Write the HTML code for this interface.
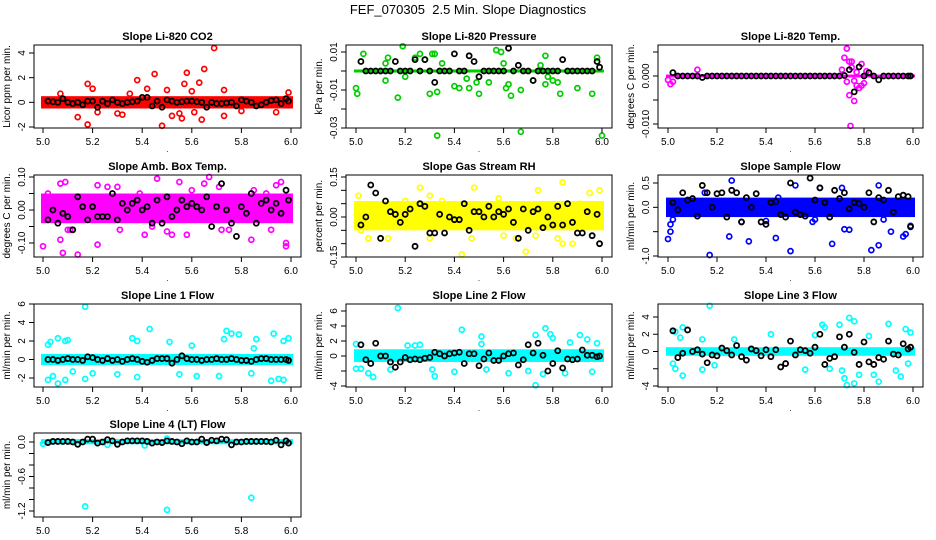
<!DOCTYPE html>
<html><head><meta charset="utf-8">
<style>
html,body{margin:0;padding:0;background:#fff;}
svg{display:block;font-family:"Liberation Sans",Arial,sans-serif;}
</style></head>
<body>
<svg id="chart" width="936" height="540" viewBox="0 0 936 540" xmlns="http://www.w3.org/2000/svg">
<rect width="936" height="540" fill="#fff"/>
<text x="468" y="14" font-size="13" text-anchor="middle" xml:space="preserve">FEF_070305  2.5 Min. Slope Diagnostics</text>
</svg>
<script>
// ---- data ----
const blackX = [5.02,5.04,5.06,5.08,5.10,5.12,5.14,5.16,5.18,5.20,5.22,5.24,5.26,5.28,5.30,5.32,5.34,5.36,5.38,5.40,5.42,5.44,5.46,5.48,5.50,5.52,5.54,5.56,5.58,5.60,5.62,5.64,5.66,5.68,5.70,5.72,5.74,5.76,5.78,5.80,5.82,5.84,5.86,5.88,5.90,5.92,5.94,5.96,5.98,5.99];
const xTicks = [5.0,5.2,5.4,5.6,5.8,6.0];
const xTickLabels = ["5.0","5.2","5.4","5.6","5.8","6.0"];

const co2Black = [0.1,0.05,0,0.3,0,-0.1,0,-0.2,0.1,0.1,-0.4,0.1,-0.1,0.2,0,-0.1,0,0.05,0.1,0.4,0.4,-0.3,0.1,-0.4,0.2,0.1,0,0.05,0.1,0.1,0.05,0,-0.4,0,-0.1,-0.1,-0.05,0,-0.3,0.2,0.1,0,-0.3,-0.2,0,0.15,0.2,-0.1,0.3,0.1];
const co2Pts = [[5.18,1.5],[5.2,1.1],[5.38,1.8],[5.45,2.3],[5.58,2.4],[5.65,2.7],[5.69,4.4],[5.57,1.5],[5.63,1.6],[5.14,-1.2],[5.18,-1.8],[5.48,-1.9],[5.56,-1.3],[5.64,-1.4],[5.73,-1.1],[5.52,-1.1],[5.07,0.7],[5.42,1.1],[5.73,1.0],[5.99,0.8],[5.3,-0.9],[5.22,-0.8],[5.94,-0.8],[5.8,-0.7],[5.6,0.9],[5.5,1.0],[5.32,-1.0],[5.55,-0.9],[5.61,-0.8],[5.35,0.7]];
const co2Band = [-0.5,0.5];

const presBlack = [0.005,0,0,0,0,0,0,0.005,0,0,0,0.006,0,0.006,0,-0.006,0,0,0,0.009,0,0,0.008,0.005,-0.003,0,0,0,0,0,0.012,0,0.003,0,0,-0.005,0,0,0,0,0,0.006,0,0,0,0,0,0,0.005,0.002];
const presPts = [[5.0,-0.009],[5.005,-0.012],[5.03,0.009],[5.17,-0.014],[5.19,0.013],[5.24,0.007],[5.26,0.009],[5.3,-0.012],[5.33,-0.034],[5.33,-0.011],[5.35,0.004],[5.4,-0.008],[5.42,-0.009],[5.46,-0.009],[5.5,-0.012],[5.57,0.011],[5.59,0.01],[5.6,0.004],[5.63,-0.013],[5.67,-0.032],[5.67,-0.01],[5.75,0.003],[5.77,0.008],[5.77,-0.007],[5.83,-0.012],[5.9,-0.009],[5.96,-0.012],[5.98,0.007],[6.0,-0.034],[5.12,-0.005],[5.12,0.004],[5.13,0.007],[5.2,-0.003],[5.54,-0.006],[5.61,-0.009],[5.62,-0.007],[5.72,-0.005],[5.78,-0.003],[5.8,-0.005],[5.82,-0.006],[5.49,-0.006],[5.45,-0.004],[5.31,0.009],[5.32,0.009],[5.28,0.006]];
const presBand = [-0.0008,0.0008];

const tempBlack = [0.0007,0,0,0,0,0,-0.0003,0,0,0,0,0,0,0,0,0,0,0,0,0,0,0,0,0,0,0,0,0,0,0,0,0,0,0,0,0.0001,0.0013,-0.0033,0.0019,0,0.0007,0,-0.0008,0,0,0,0,0,0,0];
const tempPts = [[5.73,0.0057],[5.72,0.0038],[5.74,0.003],[5.75,0.003],[5.71,0.0013],[5.74,-0.004],[5.76,-0.0052],[5.745,-0.0104],[5.77,-0.002],[5.78,-0.0025],[5.79,-0.002],[5.79,0.0025],[5.8,-0.0015],[5.01,-0.0017],[5.12,0.0013],[5.02,-0.0012],[5.0,-0.0008],[5.73,-0.0012],[5.75,0.0018],[5.77,0.0008],[5.76,-0.001],[5.81,0.001]];
const tempBand = [-0.0003,0.0003];

const ambBlack = [-0.03,0.00,-0.04,-0.01,-0.02,-0.06,0.04,0.01,-0.03,0.01,-0.02,-0.02,-0.02,0.05,-0.03,0.02,0.00,0.02,0.03,0.00,0.01,-0.04,0.03,-0.04,0.04,-0.02,0.00,0.03,0.01,0.02,0.01,0.00,0.04,-0.05,0.01,0.08,0.00,-0.04,-0.08,0.01,-0.01,0.05,-0.04,0.02,0.03,0.00,0.02,-0.01,0.06,0.03];
const ambPts = [[5.0,-0.11],[5.07,-0.09],[5.08,-0.13],[5.14,-0.135],[5.22,-0.105],[5.41,-0.075],[5.46,0.095],[5.55,0.085],[5.67,0.1],[5.98,-0.11],[5.98,-0.1],[5.84,-0.09],[5.09,0.085],[5.07,0.08],[5.22,0.075],[5.26,0.07],[5.52,-0.075],[5.58,-0.075],[5.65,0.08],[5.94,0.075],[5.96,0.085],[5.1,-0.06],[5.11,-0.06],[5.31,-0.06],[5.44,-0.05],[5.5,-0.065],[5.72,-0.06],[5.75,-0.06],[5.92,-0.06],[5.02,0.05],[5.01,-0.03],[5.3,0.07],[5.39,0.05],[5.6,0.06],[5.71,0.07],[5.85,0.06],[5.9,0.05]];
const ambBand = [-0.04,0.05];

const rhBlack = [-0.03,0.00,0.12,0.09,-0.08,0.06,0.02,0.01,-0.02,0.01,0.03,-0.11,0.05,0.04,-0.06,-0.06,0.01,-0.06,0.00,-0.01,-0.01,0.05,-0.05,0.02,0.02,0.00,0.04,0.00,0.02,0.01,0.03,-0.02,-0.08,0.03,-0.05,0.02,0.03,-0.04,0.00,-0.03,0.04,-0.03,0.05,-0.02,-0.06,-0.06,0.02,-0.07,0.01,-0.10];
const rhPts = [[5.43,-0.14],[5.69,-0.13],[5.05,-0.08],[5.1,-0.08],[5.3,-0.08],[5.47,-0.08],[5.65,-0.08],[5.73,-0.07],[5.84,-0.1],[5.88,-0.1],[5.82,-0.08],[5.48,0.11],[5.26,0.11],[5.84,0.13],[5.74,0.1],[5.95,0.09],[5.99,0.1],[5.01,0.08],[5.3,0.08],[5.58,0.07],[5.13,-0.08],[5.2,0.06],[5.35,0.06],[5.91,0.05],[5.02,-0.05],[5.6,-0.07]];
const rhBand = [-0.05,0.06];

const flowBlack = [0.1,-0.05,0.3,0.15,0.18,-0.18,0.45,0.3,0.0,0.28,0.3,-0.2,0.35,0.3,-0.3,0.2,0.0,0.28,-0.3,-0.35,0.1,0.12,-0.15,-0.2,0.5,-0.1,-0.15,-0.18,0.6,0.15,0.4,0.1,-0.2,0.35,0.18,0.3,-0.03,0.1,0.08,0.0,0.3,-0.3,0.2,0.15,0.35,-0.1,0.22,0.25,0.22,-0.4];
const flowPts = [[5.0,-0.65],[5.01,-0.5],[5.17,-0.98],[5.25,-0.6],[5.33,-0.7],[5.44,-0.63],[5.5,-0.9],[5.67,-0.75],[5.83,-0.88],[5.86,-0.78],[5.96,-0.6],[5.97,-0.55],[5.91,-0.5],[5.72,-0.45],[5.74,-0.46],[5.26,0.55],[5.52,0.45],[5.86,0.45],[5.62,0.4],[5.71,0.4],[5.45,0.2],[5.01,-0.35],[5.02,-0.25],[5.59,-0.3],[5.6,-0.25],[5.4,-0.28],[5.3,-0.3],[5.88,-0.25],[5.99,-0.38],[5.15,0.3]];
const flowBand = [-0.2,0.2];

const l1Black = [0,0,-0.1,0,0.1,0,0,-0.1,0.3,0.2,0,-0.1,0.1,-0.1,0,-0.2,0,0.1,0,-0.2,-0.3,-0.1,0.1,0.1,0.1,-0.4,0,0.4,0.1,0,0,-0.1,0,0,0.1,0,0,0.1,0,-0.1,-0.1,-0.2,0,0.1,0.1,0,0,0,0,-0.1];
const l1Pts = [[5.17,5.7],[5.43,3.3],[5.02,1.6],[5.03,1.9],[5.06,2.3],[5.09,2.0],[5.1,2.1],[5.36,2.3],[5.38,2.0],[5.51,1.9],[5.74,3.1],[5.76,2.8],[5.79,2.7],[5.86,2.2],[5.93,2.8],[5.97,2.0],[5.99,2.3],[5.73,2.2],[5.02,-2.2],[5.06,-2.6],[5.04,-1.8],[5.09,-2.2],[5.17,-2.1],[5.3,-1.6],[5.38,-1.9],[5.62,-1.8],[5.71,-1.8],[5.92,-2.3],[5.95,-2.1],[5.97,-2.2],[5.84,-1.5],[5.55,-1.6],[5.12,-1.3],[5.2,-1.5],[5.85,1.2],[5.6,1.5]];
const l1Band = [-0.6,0.6];

const l2Black = [1.5,-0.5,-1.0,1.7,0,0,-0.8,-1.5,-0.8,-0.2,-0.5,-0.4,-0.5,-0.3,-0.2,0.5,0.3,0.0,0.3,0.4,0.5,-1.0,0.3,0.3,-1.3,-0.4,0.4,-0.6,-0.6,0,0.3,0.4,-1.2,-0.5,1.5,0.4,1.7,0.1,-2.0,-1.0,0.7,-1.6,-0.4,-0.5,-0.4,0.8,0.1,0.1,-0.1,0.0];
const l2Pts = [[5.17,6.4],[5.43,3.5],[5.51,2.6],[5.51,1.6],[5.0,1.6],[5.73,2.8],[5.77,3.7],[5.79,2.9],[5.8,2.4],[5.91,2.8],[5.94,2.2],[5.98,1.7],[5.87,1.8],[5.05,-2.3],[5.07,-2.8],[5.32,-2.7],[5.31,-1.8],[5.4,-2.1],[5.73,-3.9],[5.76,-2.4],[5.85,-2.3],[5.96,-2.1],[5.62,-2.3],[5.7,-2.0],[5.14,-1.8],[5.21,1.4],[5.24,1.4],[5.26,1.5],[5.0,-1.7],[5.02,-1.7],[5.53,-1.8]];
const l2Band = [-0.8,0.9];

const l3Black = [2.4,-0.7,-0.2,2.5,0,0.2,-0.3,-1.3,-0.4,-0.5,0.4,0.1,-0.4,0.7,-0.6,-1.0,0.3,0.1,-0.5,0.2,-0.6,0.2,-1.8,-1.4,1.2,-0.4,0.2,0.1,-0.2,0.5,2.0,-1.5,-0.8,-0.6,1.7,0.5,2.0,-0.1,-1.5,1.1,-1.2,-1.5,-0.7,-0.9,1.2,-0.3,-0.4,0.9,0.3,0.5];
const l3Pts = [[5.17,5.3],[5.06,2.8],[5.03,2.3],[5.05,1.6],[5.14,1.4],[5.27,1.4],[5.42,2.0],[5.63,3.1],[5.64,2.8],[5.7,3.1],[5.74,3.9],[5.76,3.5],[5.9,3.2],[5.97,2.6],[5.99,2.2],[5.6,1.9],[5.82,1.8],[5.02,-1.4],[5.03,-2.0],[5.06,-2.8],[5.14,-2.1],[5.19,-1.6],[5.56,-2.1],[5.71,-2.2],[5.72,-3.1],[5.73,-3.9],[5.76,-3.7],[5.78,-2.7],[5.84,-2.7],[5.86,-3.5],[5.95,-2.9],[5.93,-2.2],[5.98,-1.4],[5.66,-2.0]];
const l3Band = [-0.5,0.5];

const l4Black = [-0.01,0.01,0.01,0.01,0.01,0.0,-0.04,0.0,0.05,0.05,-0.02,0.0,0.04,0.02,-0.04,0.0,0.02,0.02,0.02,0.02,0.01,-0.02,0.0,-0.01,0.02,0.01,0.0,-0.03,0.02,0.0,0.0,0.05,-0.01,0.03,0.02,0.05,0.04,-0.05,0.0,0.0,0.01,0.01,0.01,0.01,0.01,0.0,0.03,-0.05,0.02,-0.02];
const l4Pts = [[5.17,-1.12],[5.5,-1.18],[5.84,-0.97],[5.26,-0.05],[5.41,-0.06],[5.5,0.06],[5.0,-0.03]];
const l4Band = [-0.04,0.05];

// ---- layout (geometry, not data) ----
const cols = [{L:34,R:301,x0:43,x1:291},{L:346,R:612,x0:356,x1:602},{L:658,R:923,x0:668,x1:913}];
const rows = [{T:45,B:128},{T:175,B:257},{T:304,B:387},{T:433,B:517}];
const panels = [
 {c:0,r:0,title:"Slope Li-820 CO2",ylab:"Licor ppm per min.",col:"#ff0000",va:4,pa:53,vb:-2,pb:127,ticks:[-2,0,2,4],labels:["-2","0","2","4"],black:co2Black,pts:co2Pts,band:co2Band},
 {c:1,r:0,title:"Slope Li-820 Pressure",ylab:"kPa per min.",col:"#00cc00",va:0.01,pa:52,vb:-0.03,pb:128,ticks:[0.01,0,-0.01,-0.02,-0.03],labels:["0.01","","-0.01","","-0.03"],black:presBlack,pts:presPts,band:presBand},
 {c:2,r:0,title:"Slope Li-820 Temp.",ylab:"degrees C per min.",col:"#ff00ff",va:0.005,pa:52,vb:-0.010,pb:124,ticks:[0.005,0,-0.005,-0.010],labels:["","0.000","","-0.010"],black:tempBlack,pts:tempPts,band:tempBand},
 {c:0,r:1,title:"Slope Amb. Box Temp.",ylab:"degrees C per min.",col:"#ff00ff",va:0.10,pa:177,vb:-0.10,pb:243,ticks:[0.10,0.05,0,-0.05,-0.10],labels:["0.10","","0.00","","-0.10"],black:ambBlack,pts:ambPts,band:ambBand},
 {c:1,r:1,title:"Slope Gas Stream RH",ylab:"percent per min.",col:"#ffff00",va:0.15,pa:177,vb:-0.15,pb:257,ticks:[0.15,0.10,0.05,0,-0.05,-0.10,-0.15],labels:["0.15","","","0.00","","","-0.15"],black:rhBlack,pts:rhPts,band:rhBand},
 {c:2,r:1,title:"Slope Sample Flow",ylab:"ml/min per min.",col:"#0000ff",va:0.5,pa:183,vb:-1.0,pb:256,ticks:[0.5,0,-0.5,-1.0],labels:["0.5","0.0","","-1.0"],black:flowBlack,pts:flowPts,band:flowBand},
 {c:0,r:2,title:"Slope Line 1 Flow",ylab:"ml/min per min.",col:"#00ffff",va:6,pa:304,vb:-2,pb:378,ticks:[6,4,2,0,-2],labels:["6","4","2","0","-2"],black:l1Black,pts:l1Pts,band:l1Band},
 {c:1,r:2,title:"Slope Line 2 Flow",ylab:"ml/min per min.",col:"#00ffff",va:6,pa:311,vb:-4,pb:386,ticks:[6,4,2,0,-2,-4],labels:["6","4","2","0","","-4"],black:l2Black,pts:l2Pts,band:l2Band},
 {c:2,r:2,title:"Slope Line 3 Flow",ylab:"ml/min per min.",col:"#00ffff",va:4,pa:317,vb:-4,pb:386,ticks:[4,2,0,-2,-4],labels:["4","2","0","","-4"],black:l3Black,pts:l3Pts,band:l3Band},
 {c:0,r:3,title:"Slope Line 4 (LT) Flow",ylab:"ml/min per min.",col:"#00ffff",va:0,pa:442,vb:-1.2,pb:511,ticks:[0,-0.2,-0.4,-0.6,-0.8,-1.0,-1.2],labels:["0.0","","","-0.6","","","-1.2"],black:l4Black,pts:l4Pts,band:l4Band}
];

const NS = "http://www.w3.org/2000/svg";
const svg = document.getElementById('chart');
function mk(tag, attrs, parent){ const e=document.createElementNS(NS,tag); for(const k in attrs) e.setAttribute(k,attrs[k]); (parent||svg).appendChild(e); return e; }

panels.forEach((p,i)=>{
  const C = cols[p.c], R = rows[p.r];
  const xs = v => C.x0 + (v-5.0)/(1.0)*(C.x1-C.x0);
  const ys = v => p.pa + (v-p.va)/(p.vb-p.va)*(p.pb-p.pa);
  const g = mk('g',{});
  
  
  const bt = ys(p.band[1]), bb = ys(p.band[0]);
  const band = mk('rect',{x:xs(5.0)-2,y:bt,width:xs(6.0)-xs(5.0)+4,height:Math.max(2,bb-bt),fill:p.col},g);
  
  
  p.pts.forEach(pt=>{
    const c = mk('circle',{cx:xs(pt[0]),cy:ys(pt[1]),r:2.5,fill:'none',stroke:p.col,'stroke-width':1.7},g);
    
    
  });
  p.black.forEach((v,j)=>{
    const c = mk('circle',{cx:xs(blackX[j]),cy:ys(v),r:2.5,fill:'none',stroke:'#000','stroke-width':1.8},g);
    
    
  });
  const box = mk('rect',{x:C.L,y:R.T,width:C.R-C.L,height:R.B-R.T,fill:'none',stroke:'#000','stroke-width':1},g);
  
  
  const t = mk('text',{x:(C.L+C.R)/2,y:R.T-5,'font-size':11,'font-weight':'bold','text-anchor':'middle'},g);
  t.textContent = p.title;
  
  
  const xa = mk('g',{},g);
  
  
  mk('line',{x1:xs(5.0),x2:xs(6.0),y1:R.B,y2:R.B,stroke:'#000'},xa);
  xTicks.forEach((v,k)=>{
    mk('line',{x1:xs(v),x2:xs(v),y1:R.B,y2:R.B+5,stroke:'#000'},xa);
    const tl = mk('text',{x:xs(v),y:R.B+17,'font-size':10,'text-anchor':'middle'},xa);
    tl.textContent = xTickLabels[k];
    
    
  });
  const dot = mk('text',{x:(C.L+C.R)/2,y:R.B+24,'font-size':8,'text-anchor':'middle'},xa);
  dot.textContent = '.';
  const ya = mk('g',{},g);
  
  
  const yt = p.ticks.map(ys);
  mk('line',{x1:C.L,x2:C.L,y1:Math.min(...yt),y2:Math.max(...yt),stroke:'#000'},ya);
  p.ticks.forEach((v,k)=>{
    const y = ys(v);
    mk('line',{x1:C.L-5,x2:C.L,y1:y,y2:y,stroke:'#000'},ya);
    if(p.labels[k]){
      const tl = mk('text',{x:C.L-9,y:y,'font-size':10,'text-anchor':'middle',transform:`rotate(-90 ${C.L-9} ${y})`},ya);
      tl.textContent = p.labels[k];
      
      
    }
  });
  const yl = mk('text',{x:C.L-24,y:(R.T+R.B)/2,'font-size':10,'text-anchor':'middle',transform:`rotate(-90 ${C.L-24} ${(R.T+R.B)/2})`},ya);
  yl.textContent = p.ylab;
  
  
});
</script>
</body></html>
